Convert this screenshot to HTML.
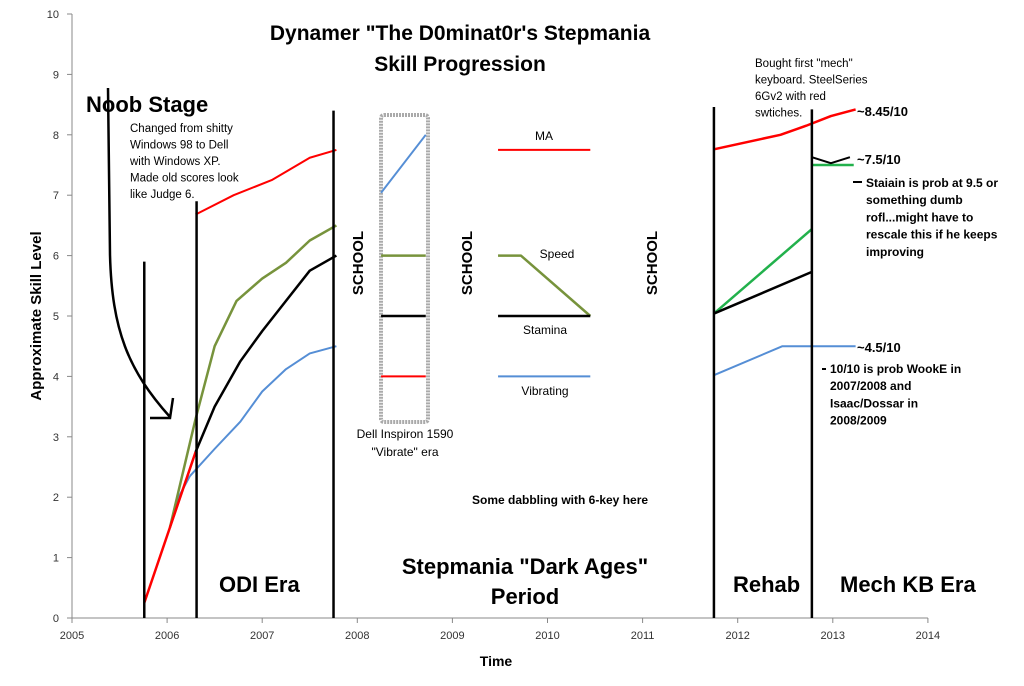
<!DOCTYPE html>
<html><head><meta charset="utf-8"><style>
body{margin:0;background:#fff;}
svg{display:block;font-family:"Liberation Sans",sans-serif;}
</style></head><body>
<svg id="c" width="1024" height="686">
<rect x="0" y="0" width="1024" height="686" fill="#fff"/>
</svg>
<script>
const xTicks=[2005,2006,2007,2008,2009,2010,2011,2012,2013,2014];
const yTicks=[0,1,2,3,4,5,6,7,8,9,10];
// early stage
const earlyRedX=[2005.76,2006.3];const earlyRedY=[0.25,2.75];
const earlyGreenX=[2006.03,2006.3];const earlyGreenY=[1.5,3.3];
const earlyBlackX=[2006.03,2006.3];const earlyBlackY=[1.5,2.75];
const earlyBlueX=[2006.03,2006.12,2006.24];const earlyBlueY=[1.5,2.0,2.35];
// ODI era
const odiRedX=[2006.3,2006.7,2007.1,2007.5,2007.78];const odiRedY=[6.68,7.0,7.25,7.62,7.75];
const odiGreenX=[2006.3,2006.5,2006.73,2007.0,2007.25,2007.5,2007.78];const odiGreenY=[3.3,4.5,5.25,5.62,5.88,6.25,6.5];
const odiBlackX=[2006.3,2006.5,2006.77,2007.0,2007.25,2007.5,2007.78];const odiBlackY=[2.75,3.5,4.25,4.75,5.25,5.75,6.0];
const odiBlueX=[2006.24,2006.5,2006.77,2007.0,2007.25,2007.5,2007.78];const odiBlueY=[2.35,2.8,3.25,3.75,4.12,4.38,4.5];
// vibrate box
const vibBlueX=[2008.25,2008.72];const vibBlueY=[7.04,8.0];
const vibFlatX=[2008.25,2008.72];
const vibGreenY=6.0,vibBlackY=5.0,vibRedY=4.0;
// legend
const legX=[2009.48,2010.45];const legSpeedX=[2009.48,2009.72,2010.45];const legSpeedY=[6.0,6.0,5.0];
const legMA=7.75,legStamina=5.0,legVib=4.0;
// rehab / mech
const rehRedX=[2011.75,2012.45,2012.72,2012.98,2013.24];const rehRedY=[7.76,8.0,8.15,8.31,8.42];
const rehGreenX=[2011.75,2012.78];const rehGreenY=[5.04,6.44];
const rehBlackX=[2011.75,2012.78];const rehBlackY=[5.04,5.73];
const rehBlueX=[2011.75,2012.47,2013.24];const rehBlueY=[4.02,4.5,4.5];
const mechGreenX=[2012.78,2013.22];const mechGreenY=[7.5,7.5];
const mechBlackX=[2012.78,2012.98,2013.18];const mechBlackY=[7.63,7.53,7.63];
// era divider lines: x, top value
const dividerX=[2005.76,2006.31,2007.75,2011.75,2012.78];
const dividerTop=[5.9,6.9,8.4,8.46,8.42];

const X0=72,XS=95.1,Y0=618,YS=60.4;
const sx=v=>X0+(v-2005)*XS, sy=v=>Y0-v*YS;
const svg=document.getElementById('c');const NS='http://www.w3.org/2000/svg';
function mk(tag,attrs,parent){const e=document.createElementNS(NS,tag);for(const k in attrs)e.setAttribute(k,attrs[k]);(parent||svg).appendChild(e);return e;}
function line(xs,ys,color,w,name){const e=mk('polyline',{points:xs.map((x,i)=>sx(x)+','+sy(ys[i])).join(' '),fill:'none',stroke:color,'stroke-width':w,'stroke-linejoin':'round'});

return e;}
function txt(x,y,s,opts){const e=mk('text',Object.assign({x:x,y:y,'font-size':12,fill:'#000'},opts||{}));e.textContent=s;

return e;}

// axes
const ax=mk('line',{x1:X0,y1:sy(10),x2:X0,y2:Y0,stroke:'#888','stroke-width':1});


const bx=mk('line',{x1:X0,y1:Y0,x2:sx(2014),y2:Y0,stroke:'#888','stroke-width':1});


yTicks.forEach(v=>{const t=mk('line',{x1:X0-5,y1:sy(v),x2:X0,y2:sy(v),stroke:'#888'});


txt(X0-13,sy(v)+4,String(v),{'text-anchor':'end','font-size':11,fill:'#333',nm:'y-tick-label'});});
xTicks.forEach(v=>{const t=mk('line',{x1:sx(v),y1:Y0,x2:sx(v),y2:Y0+5,stroke:'#888'});


txt(sx(v),Y0+21,String(v),{'text-anchor':'middle','font-size':11,fill:'#333',nm:'x-tick-label'});});
txt(496,666,'Time',{'text-anchor':'middle','font-size':14,'font-weight':'bold',nm:'x-axis-title'});
txt(0,0,'Approximate Skill Level',{'text-anchor':'middle','font-size':15,'font-weight':'bold',transform:'translate(41,316) rotate(-90)',nm:'y-axis-title'});

// title
txt(460,40,'Dynamer "The D0minat0r\'s Stepmania',{'text-anchor':'middle','font-size':21,'font-weight':'bold',nm:'chart-title'});
txt(460,71,'Skill Progression',{'text-anchor':'middle','font-size':21,'font-weight':'bold',nm:'chart-title-line2'});

// vibrate box
const bxr=mk('rect',{x:381,y:115,width:47,height:307,rx:3,fill:'none',stroke:'#aaa','stroke-width':4,'stroke-dasharray':'2,1'});



const R='#ff0000',G='#77933c',K='#000',B='#558ed5',G2='#22b14c';
line(earlyBlueX,earlyBlueY,B,2,'vibrating-early');
line(earlyGreenX,earlyGreenY,G,2.5,'speed-early');
line(earlyBlackX,earlyBlackY,K,2,'stamina-early');
line(earlyRedX,earlyRedY,R,2.5,'ma-early');
line(odiRedX,odiRedY,R,2,'ma-odi');
line(odiGreenX,odiGreenY,G,2.5,'speed-odi');
line(odiBlackX,odiBlackY,K,2.5,'stamina-odi');
line(odiBlueX,odiBlueY,B,2,'vibrating-odi');
line(vibBlueX,vibBlueY,B,2,'vibrating-vibrate-era');
line(vibFlatX,[vibGreenY,vibGreenY],G,2.5,'speed-vibrate-era');
line(vibFlatX,[vibBlackY,vibBlackY],K,2.5,'stamina-vibrate-era');
line(vibFlatX,[vibRedY,vibRedY],R,2,'ma-vibrate-era');
line(legX,[legMA,legMA],R,2,'legend-ma-line');
line(legSpeedX,legSpeedY,G,2.5,'legend-speed-line');
line(legX,[legStamina,legStamina],K,2.5,'legend-stamina-line');
line(legX,[legVib,legVib],B,2,'legend-vibrating-line');
line(rehRedX,rehRedY,R,2.5,'ma-rehab');
line(rehGreenX,rehGreenY,G2,2.5,'speed-rehab');
line(rehBlackX,rehBlackY,K,2.5,'stamina-rehab');
line(rehBlueX,rehBlueY,B,2,'vibrating-rehab');
line(mechGreenX,mechGreenY,G2,2.5,'speed-mech');
line(mechBlackX,mechBlackY,K,2,'stamina-mech');
dividerX.forEach((x,i)=>{const l=mk('line',{x1:sx(x),y1:sy(dividerTop[i]),x2:sx(x),y2:Y0,stroke:'#000','stroke-width':2.5});

});

// noob arrow
const ar=mk('path',{d:'M108,88 L110,255 C112,330 128,370 170,417 M150,418 L170,418 L173,398',fill:'none',stroke:'#000','stroke-width':2.5});



// labels
txt(86,112,'Noob Stage',{'font-size':22,'font-weight':'bold',nm:'noob-stage-label'});
['Changed from shitty','Windows 98 to Dell','with Windows XP.','Made old scores look','like Judge 6.'].forEach((s,i)=>txt(130,132+i*16.5,s,{'font-size':11.5,nm:'xp-annotation'}));
txt(219,592,'ODI Era',{'font-size':22,'font-weight':'bold',nm:'odi-era-label'});
txt(525,574,'Stepmania "Dark Ages"',{'text-anchor':'middle','font-size':22,'font-weight':'bold',nm:'dark-ages-label'});
txt(525,604,'Period',{'text-anchor':'middle','font-size':22,'font-weight':'bold',nm:'dark-ages-period'});
txt(733,592,'Rehab',{'font-size':22,'font-weight':'bold',nm:'rehab-label'});
txt(840,592,'Mech KB Era',{'font-size':22,'font-weight':'bold',nm:'mech-kb-era-label'});
txt(472,504,'Some dabbling with 6-key here',{'font-size':12,'font-weight':'bold',nm:'six-key-note'});
txt(405,438,'Dell Inspiron 1590',{'text-anchor':'middle','font-size':12,nm:'dell-note'});
txt(405,456,'"Vibrate" era',{'text-anchor':'middle','font-size':12,nm:'dell-note-2'});
[357,466,651].forEach(x=>txt(0,0,'SCHOOL',{'text-anchor':'middle','font-size':15,'font-weight':'bold',transform:`translate(${x+6},263) rotate(-90)`,nm:'school-label'}));
txt(544,140,'MA',{'text-anchor':'middle','font-size':12,nm:'legend-ma-label'});
txt(557,258,'Speed',{'text-anchor':'middle','font-size':12,nm:'legend-speed-label'});
txt(545,334,'Stamina',{'text-anchor':'middle','font-size':12,nm:'legend-stamina-label'});
txt(545,395,'Vibrating',{'text-anchor':'middle','font-size':12,nm:'legend-vibrating-label'});
['Bought first "mech"','keyboard.  SteelSeries','6Gv2 with red','swtiches.'].forEach((s,i)=>txt(755,67+i*16.5,s,{'font-size':11.5,nm:'mech-keyboard-note'}));
txt(857,116,'~8.45/10',{'font-size':13,'font-weight':'bold',nm:'ma-current-label'});
txt(857,164,'~7.5/10',{'font-size':13,'font-weight':'bold',nm:'speed-current-label'});
txt(857,352,'~4.5/10',{'font-size':13,'font-weight':'bold',nm:'vibrating-current-label'});
const d1=mk('line',{x1:853,y1:182,x2:862,y2:182,stroke:'#000','stroke-width':2});


['Staiain is prob at 9.5 or','something dumb','rofl...might have to','rescale this if he keeps','improving'].forEach((s,i)=>txt(866,187+i*17.2,s,{'font-size':12,'font-weight':'bold',nm:'staiain-note'}));
const d2=mk('line',{x1:822,y1:369,x2:826,y2:369,stroke:'#000','stroke-width':2});


['10/10 is prob WookE in','2007/2008 and','Isaac/Dossar in','2008/2009'].forEach((s,i)=>txt(830,373+i*17.2,s,{'font-size':12,'font-weight':'bold',nm:'ten-ten-note'}));
</script>
</body></html>
